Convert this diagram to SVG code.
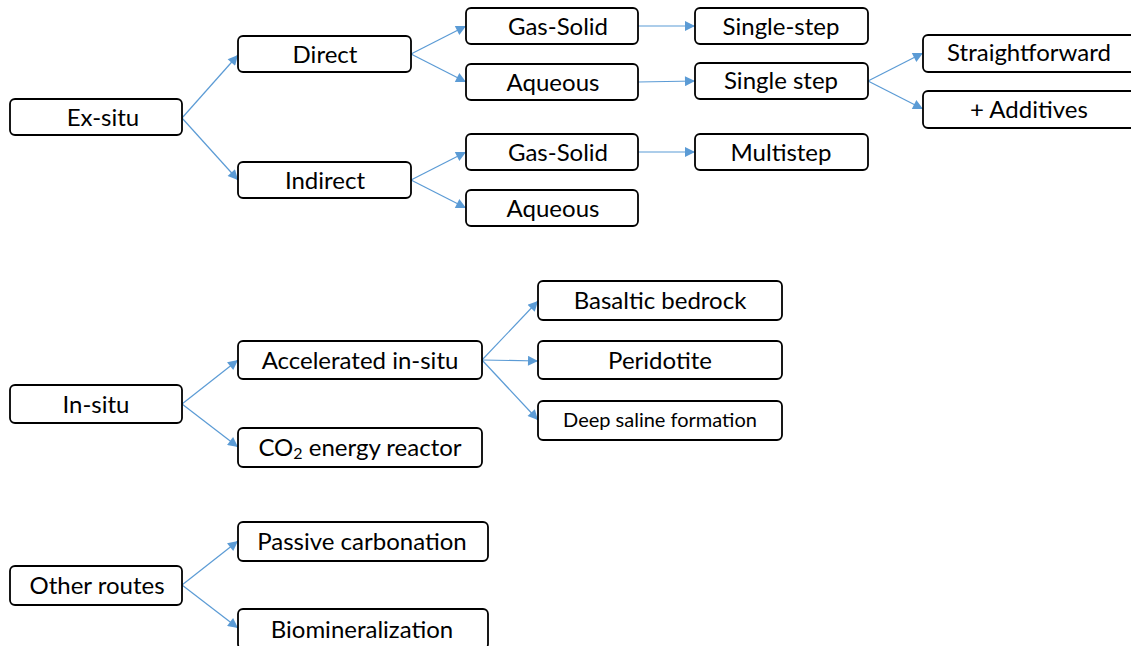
<svg xmlns="http://www.w3.org/2000/svg" width="1131" height="646" viewBox="0 0 1131 646">
<defs>
<marker id="ah" viewBox="0 0 10 10" refX="10" refY="5" markerWidth="12" markerHeight="10" markerUnits="userSpaceOnUse" orient="auto">
<path d="M0,0 L10,5 L0,10 z" fill="#5B9BD5"/>
</marker>
<style>
.b{fill:#fff;stroke:#000;stroke-width:1.8}
.t{font-family:Lato,"Open Sans","Liberation Sans",sans-serif;font-size:24px;fill:#000;text-anchor:middle;dominant-baseline:central}
.s{font-size:20px}
.c line{stroke:#5B9BD5;stroke-width:1.2;marker-end:url(#ah)}
</style>
</defs>
<rect width="1131" height="646" fill="#fff"/>
<g class="c" id="connectors">
<line x1="182" y1="118" x2="238" y2="55"/>
<line x1="182" y1="118" x2="238" y2="180"/>
<line x1="411" y1="54" x2="466" y2="26"/>
<line x1="411" y1="54" x2="466" y2="82"/>
<line x1="411" y1="180" x2="466" y2="152"/>
<line x1="411" y1="180" x2="466" y2="208"/>
<line x1="638" y1="26" x2="695" y2="26"/>
<line x1="638" y1="82" x2="695" y2="81"/>
<line x1="638" y1="152" x2="695" y2="152"/>
<line x1="868" y1="81" x2="923" y2="53"/>
<line x1="868" y1="81" x2="923" y2="109"/>
<line x1="182" y1="404" x2="238" y2="360"/>
<line x1="182" y1="404" x2="238" y2="447"/>
<line x1="482" y1="360" x2="538" y2="301"/>
<line x1="482" y1="360" x2="538" y2="361"/>
<line x1="482" y1="360" x2="538" y2="420"/>
<line x1="182" y1="585" x2="238" y2="541"/>
<line x1="182" y1="585" x2="238" y2="628"/>
</g>
<g id="exsitu"><rect class="b" x="10" y="99" width="172" height="36" rx="5"/><text class="t" x="103" y="116">Ex-situ</text></g>
<g id="direct"><rect class="b" x="238" y="36" width="173" height="36" rx="5"/><text class="t" x="325" y="53">Direct</text></g>
<g id="indirect"><rect class="b" x="238" y="162" width="173" height="36" rx="5"/><text class="t" x="325" y="179">Indirect</text></g>
<g id="gassolid1"><rect class="b" x="466" y="8" width="172" height="36" rx="5"/><text class="t" x="558" y="25">Gas-Solid</text></g>
<g id="aqueous1"><rect class="b" x="466" y="64" width="172" height="36" rx="5"/><text class="t" x="553" y="81">Aqueous</text></g>
<g id="gassolid2"><rect class="b" x="466" y="134" width="172" height="36" rx="5"/><text class="t" x="558" y="151">Gas-Solid</text></g>
<g id="aqueous2"><rect class="b" x="466" y="190" width="172" height="36" rx="5"/><text class="t" x="553" y="207">Aqueous</text></g>
<g id="singlestep1"><rect class="b" x="695" y="8" width="173" height="36" rx="5"/><text class="t" x="781" y="25">Single-step</text></g>
<g id="singlestep2"><rect class="b" x="695" y="63" width="173" height="36" rx="5"/><text class="t" x="781" y="79">Single step</text></g>
<g id="multistep"><rect class="b" x="695" y="134" width="173" height="36" rx="5"/><text class="t" x="781" y="151">Multistep</text></g>
<g id="straightforward"><rect class="b" x="923" y="35" width="215" height="37" rx="5"/><text class="t" x="1029" y="51">Straightforward</text></g>
<g id="additives"><rect class="b" x="923" y="91" width="215" height="37" rx="5"/><text class="t" x="1029" y="108">+ Additives</text></g>
<g id="insitu"><rect class="b" x="10" y="385" width="172" height="38" rx="5"/><text class="t" x="96" y="403">In-situ</text></g>
<g id="accelerated"><rect class="b" x="238" y="341" width="244" height="38" rx="5"/><text class="t" x="360" y="359">Accelerated in-situ</text></g>
<g id="co2reactor"><rect class="b" x="238" y="428" width="244" height="39" rx="5"/><text class="t" x="360" y="446">CO<tspan font-size="16" dy="6">2</tspan><tspan dy="-6"> energy reactor</tspan></text></g>
<g id="basaltic"><rect class="b" x="538" y="281" width="244" height="39" rx="5"/><text class="t" x="660" y="299">Basaltic bedrock</text></g>
<g id="peridotite"><rect class="b" x="538" y="341" width="244" height="38" rx="5"/><text class="t" x="660" y="359">Peridotite</text></g>
<g id="deepsaline"><rect class="b" x="538" y="401" width="244" height="39" rx="5"/><text class="t s" x="660" y="419">Deep saline formation</text></g>
<g id="otherroutes"><rect class="b" x="10" y="566" width="172" height="39" rx="5"/><text class="t" x="97" y="584">Other routes</text></g>
<g id="passive"><rect class="b" x="238" y="522" width="250" height="39" rx="5"/><text class="t" x="362" y="540">Passive carbonation</text></g>
<g id="biomin"><rect class="b" x="238" y="609" width="250" height="40" rx="5"/><text class="t" x="362" y="628">Biomineralization</text></g>
</svg>
